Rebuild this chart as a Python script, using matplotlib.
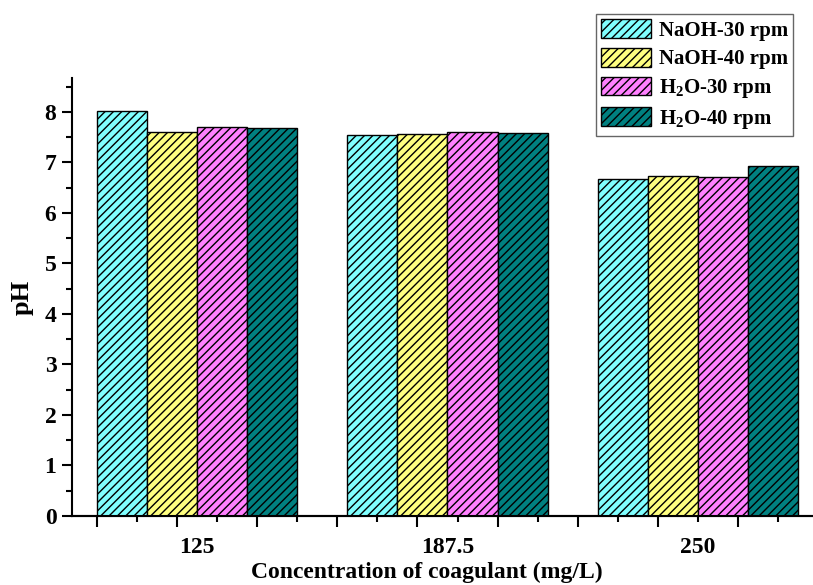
import numpy as np
import matplotlib
matplotlib.use('Agg')
import matplotlib.pyplot as plt

plt.rcParams['font.family'] = ['Liberation Serif', 'DejaVu Serif']
plt.rcParams['font.weight'] = 'bold'
plt.rcParams['mathtext.fontset'] = 'custom'
plt.rcParams['mathtext.rm'] = 'Liberation Serif:bold'
plt.rcParams['mathtext.bf'] = 'Liberation Serif:bold'
plt.rcParams['hatch.linewidth'] = 1.0

# data
concentrations = ['125', '187.5', '250']
series_names = ['NaOH-30 rpm', 'NaOH-40 rpm', r'H$_\mathbf{2}$O-30 rpm', r'H$_\mathbf{2}$O-40 rpm']
naoh_30 = [8.02, 7.55, 6.67]
naoh_40 = [7.61, 7.56, 6.74]
h2o_30 = [7.70, 7.60, 6.71]
h2o_40 = [7.68, 7.59, 6.93]
colors = ['#80FFFF', '#FFFF80', '#FF80FF', '#008080']

fig = plt.figure(figsize=(8.13, 5.85), dpi=100)
ax = fig.add_axes([71.7 / 813, 69 / 585, (812 - 71.7) / 813, (516 - 78) / 585])

x = np.arange(len(concentrations))
width = 0.2
all_series = [naoh_30, naoh_40, h2o_30, h2o_40]
for i, (vals, name, c) in enumerate(zip(all_series, series_names, colors)):
    ax.bar(x - 0.4 + width * i, vals, width, align='edge', color=c,
           edgecolor='black', linewidth=1.0, hatch='////', label=name)

ax.set_xlim(-0.5, 2.455)
ax.set_ylim(0, 8.67)

for s in ['top', 'right']:
    ax.spines[s].set_visible(False)
for s in ['left', 'bottom']:
    ax.spines[s].set_linewidth(1.5)

# y ticks
ax.set_yticks(np.arange(0, 9, 1))
ax.set_yticks(np.arange(0.5, 8.6, 1), minor=True)
ax.tick_params(axis='y', which='major', direction='out', length=7, width=1.5, labelsize=17, pad=4)
ax.tick_params(axis='y', which='minor', direction='out', length=4, width=1.5)

# x labels at group centres, tick marks on a secondary axis
ax.set_xticks(x, concentrations)
ax.tick_params(axis='x', which='major', length=0, labelsize=17, pad=15)
long_ticks = np.arange(-0.4, 2.46, 0.32)
sec = ax.secondary_xaxis('bottom')
sec.set_xticks(long_ticks, [''] * len(long_ticks))
sec.set_xticks(np.arange(-0.24, 2.46, 0.32), minor=True)
sec.tick_params(which='major', direction='out', length=8, width=1.5)
sec.tick_params(which='minor', direction='out', length=4, width=1.5)
sec.spines['bottom'].set_linewidth(1.5)

ax.set_xlabel('Concentration of coagulant (mg/L)', fontsize=17, fontweight='bold')
ax.xaxis.set_label_coords(0.48, -0.105)
ax.set_ylabel('pH', fontsize=19, fontweight='bold', labelpad=8)

leg = fig.legend(loc='upper right', bbox_to_anchor=(793 / 813, 1 - 14 / 585),
                 bbox_transform=fig.transFigure, borderaxespad=0, fontsize=15,
                 fancybox=False, edgecolor='#404040', handlelength=2.4, handleheight=1.0,
                 labelspacing=0.35, handletextpad=0.35, borderpad=0.25)
leg.get_frame().set_linewidth(1.0)

fig.savefig('out.png', dpi=100)
